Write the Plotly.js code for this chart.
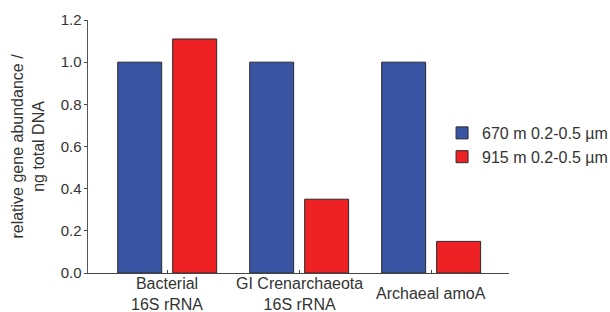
<!DOCTYPE html>
<html>
<head>
<meta charset="utf-8">
<script src="https://cdn.plot.ly/plotly-3.0.1.min.js"></script>
<style>html,body{margin:0;padding:0;background:#fff;}#chart{width:610px;height:312px;}</style>
</head>
<body>
<div id="chart"></div>
<script>
var categories = ["Bacterial<br>16S rRNA", "GI Crenarchaeota<br>16S rRNA", "Archaeal amoA"];
var seriesNames = ["670 m 0.2-0.5 µm", "915 m 0.2-0.5 µm"];
var values670 = [1.0, 1.0, 1.0];
var values915 = [1.11, 0.35, 0.15];
var yTickVals = [0, 0.2, 0.4, 0.6, 0.8, 1.0, 1.2];
var yTitle = "relative gene abundance /<br>ng total DNA";

var idx = categories.map(function(c, i){ return i; });
var font = {family: "Liberation Sans, Arial, sans-serif", size: 16, color: "#333"};

var traces = [
  {type: "bar", x: idx, y: values670, name: seriesNames[0],
   marker: {color: "#3A54A4", line: {color: "#2a2a2a", width: 1}}},
  {type: "bar", x: idx, y: values915, name: seriesNames[1],
   marker: {color: "#EE2125", line: {color: "#2a2a2a", width: 1}}}
];

var annotations = categories.map(function(c, i){
  return {x: i, xref: "x", y: -0.083, yref: "paper", yanchor: "middle", xanchor: "center",
          text: c, showarrow: false, font: font};
});

var layout = {
  width: 610, height: 312,
  margin: {l: 88, r: 101, t: 20, b: 39, autoexpand: false},
  paper_bgcolor: "#fff", plot_bgcolor: "#fff",
  font: font,
  barmode: "group", bargap: 0.167, bargroupgap: 0.2,
  showlegend: true,
  legend: {x: 0.841, xanchor: "left", y: 0.506, yanchor: "middle",
           font: font, bgcolor: "rgba(0,0,0,0)"},
  xaxis: {range: [-0.6, 2.59], tickvals: idx, showticklabels: false, ticks: "inside", ticklen: 3,
          tickcolor: "#444", showline: true, linecolor: "#444", linewidth: 1.2, showgrid: false, zeroline: false, fixedrange: true},
  yaxis: {range: [0, 1.2], tickvals: yTickVals, tickformat: ".1f", ticks: "outside", ticklen: 3,
          tickcolor: "#444", showline: true, linecolor: "#555", linewidth: 1.5, showgrid: false, zeroline: false,
          ticklabelstandoff: -1,
          tickfont: {family: "Liberation Sans, Arial, sans-serif", size: 15, color: "#333"},
          title: {text: yTitle, font: font, standoff: 12}},
  annotations: annotations
};

Plotly.newPlot("chart", traces, layout, {displayModeBar: false, staticPlot: true});
</script>
</body>
</html>
